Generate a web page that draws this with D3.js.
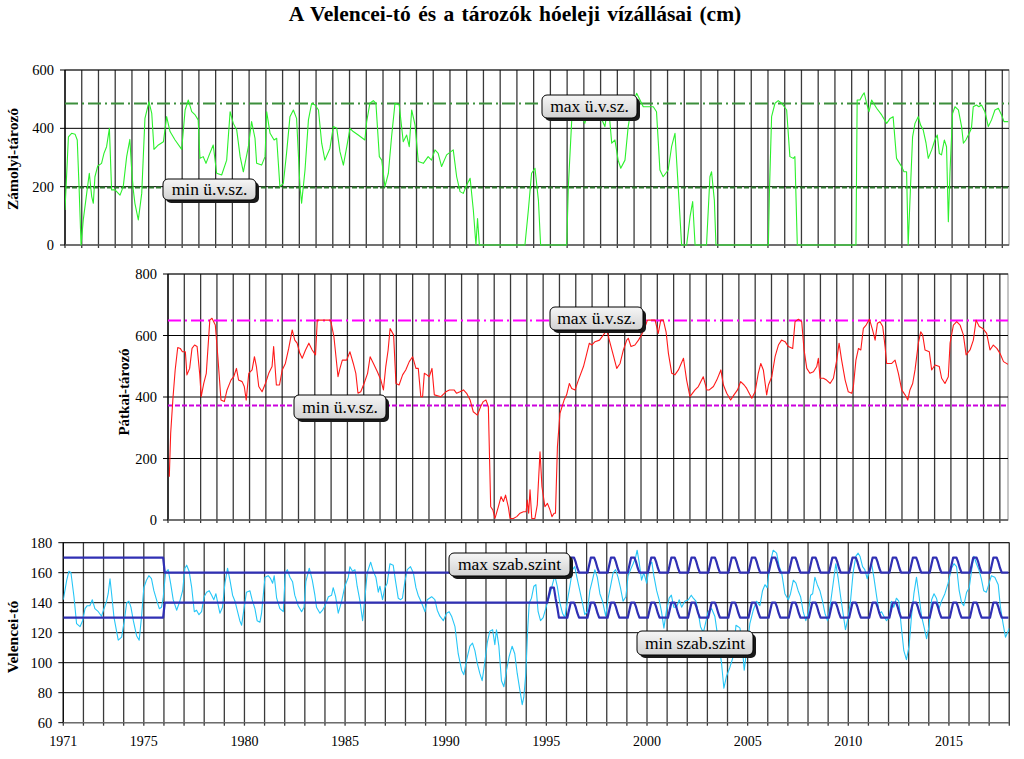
<!DOCTYPE html>
<html><head><meta charset="utf-8">
<script src="https://cdn.jsdelivr.net/npm/d3@7"></script>
<style>body{margin:0;background:#fff}svg{display:block}svg text{font-family:"Liberation Serif","DejaVu Serif",serif}</style>
</head><body>
<svg id="chart" width="1024" height="759"></svg>
<script>
// ---------------- DATA ----------------
const titleText = "A Velencei-tó és a tározók hóeleji vízállásai (cm)";
const yearLabels = [1971, 1975, 1980, 1985, 1990, 1995, 2000, 2005, 2010, 2015];

// Zámolyi-tározó [decimal year, cm]
const zamolyi = [[1971.00,120],[1971.17,371],[1971.33,383],[1971.50,380],[1971.61,360],[1971.70,200],[1971.80,0],[1971.91,86],
[1972.08,177],[1972.21,246],[1972.33,166],[1972.41,143],[1972.49,234],[1972.63,271],[1972.82,280],[1972.94,314],
[1973.07,337],[1973.21,400],[1973.32,189],[1973.49,189],[1973.74,171],[1973.90,200],[1974.07,303],[1974.23,362],
[1974.32,257],[1974.40,189],[1974.48,143],[1974.65,86],[1974.82,177],[1974.98,434],[1975.18,491],[1975.32,451],
[1975.43,328],[1975.65,343],[1975.90,354],[1976.06,440],[1976.23,389],[1976.48,360],[1976.81,328],[1976.98,463],
[1977.14,497],[1977.31,457],[1977.48,446],[1977.63,429],[1977.72,297],[1977.88,303],[1978.02,280],[1978.18,309],
[1978.38,343],[1978.55,246],[1978.80,240],[1979.05,291],[1979.22,457],[1979.38,417],[1979.55,394],[1979.72,303],
[1979.88,251],[1980.13,337],[1980.29,423],[1980.46,366],[1980.54,280],[1980.79,274],[1980.96,303],[1981.04,457],
[1981.21,383],[1981.41,360],[1981.54,366],[1981.70,200],[1981.87,211],[1982.03,314],[1982.20,440],[1982.37,463],
[1982.53,434],[1982.70,200],[1982.78,143],[1982.95,257],[1983.12,429],[1983.28,486],[1983.45,480],[1983.62,463],
[1983.78,349],[1983.94,291],[1984.19,331],[1984.36,406],[1984.53,400],[1984.69,320],[1984.86,274],[1985.03,337],
[1985.19,400],[1985.35,389],[1985.60,377],[1985.93,360],[1986.02,423],[1986.18,486],[1986.35,495],[1986.48,486],
[1986.65,303],[1986.77,291],[1986.93,200],[1987.10,246],[1987.26,371],[1987.43,486],[1987.64,480],[1987.84,354],
[1988.01,377],[1988.14,337],[1988.26,463],[1988.43,411],[1988.59,286],[1988.84,280],[1989.08,303],[1989.25,291],
[1989.42,326],[1989.58,314],[1989.75,269],[1990.00,309],[1990.33,326],[1990.50,234],[1990.67,183],[1990.83,177],
[1991.00,206],[1991.17,229],[1991.33,120],[1991.46,0],[1991.54,91],[1991.63,0],[1993.90,0],[1994.07,120],
[1994.23,246],[1994.40,263],[1994.57,154],[1994.68,0],[1995.98,0],[1996.06,200],[1996.23,429],[1996.39,463],
[1996.63,451],[1996.88,417],[1997.13,480],[1997.38,463],[1997.63,446],[1997.88,406],[1998.05,486],[1998.22,349],
[1998.38,360],[1998.54,291],[1998.67,263],[1998.88,291],[1999.04,406],[1999.21,474],[1999.46,520],[1999.63,497],
[1999.79,474],[2000.29,474],[2000.45,457],[2000.62,257],[2000.78,234],[2001.03,257],[2001.20,337],[2001.37,383],
[2001.53,200],[2001.70,0],[2001.95,0],[2002.12,97],[2002.25,149],[2002.37,0],[2002.94,0],[2003.11,234],
[2003.19,251],[2003.33,154],[2003.41,0],[2006.02,0],[2006.07,177],[2006.18,440],[2006.35,486],[2006.51,495],
[2006.68,486],[2006.93,463],[2007.09,303],[2007.26,297],[2007.34,303],[2007.46,0],[2010.38,0],[2010.44,497],
[2010.58,497],[2010.71,514],[2010.79,522],[2010.91,486],[2011.03,457],[2011.16,497],[2011.41,469],[2011.66,446],
[2011.91,417],[2012.08,434],[2012.23,440],[2012.40,297],[2012.65,269],[2012.77,251],[2012.90,251],[2012.98,0],
[2013.07,154],[2013.20,371],[2013.32,417],[2013.48,440],[2013.60,411],[2013.73,394],[2013.87,349],[2013.98,297],
[2014.15,326],[2014.31,360],[2014.43,377],[2014.53,314],[2014.64,309],[2014.78,360],[2014.89,337],[2014.98,80],
[2015.06,246],[2015.19,451],[2015.31,474],[2015.48,463],[2015.64,406],[2015.73,349],[2015.85,360],[2016.02,383],
[2016.13,400],[2016.22,474],[2016.38,480],[2016.50,474],[2016.63,480],[2016.80,457],[2016.97,406],[2017.13,429],
[2017.30,463],[2017.47,469],[2017.63,446],[2017.75,423],[2017.96,423]];

// Pátkai-tározó [decimal year, cm]
const patkai = [[1975.15,141],[1975.22,282],[1975.33,390],[1975.45,488],[1975.58,561],[1975.71,558],[1975.82,547],[1975.97,547],
[1976.05,472],[1976.19,493],[1976.31,558],[1976.44,569],[1976.57,564],[1976.70,477],[1976.78,401],[1976.91,444],
[1977.04,477],[1977.22,650],[1977.33,656],[1977.50,634],[1977.63,531],[1977.79,390],[1977.96,385],[1978.10,423],
[1978.30,455],[1978.44,466],[1978.58,493],[1978.69,455],[1978.87,450],[1978.98,434],[1979.08,390],[1979.21,477],
[1979.38,488],[1979.50,531],[1979.60,499],[1979.72,434],[1979.89,417],[1980.06,444],[1980.23,477],[1980.40,499],
[1980.48,564],[1980.62,439],[1980.78,439],[1980.92,488],[1981.08,509],[1981.25,558],[1981.43,618],[1981.56,585],
[1981.68,575],[1981.82,542],[1981.94,526],[1982.11,553],[1982.28,575],[1982.45,553],[1982.62,537],[1982.71,650],
[1982.88,650],[1983.39,650],[1983.56,596],[1983.77,466],[1983.87,493],[1983.99,520],[1984.21,520],[1984.38,547],
[1984.55,509],[1984.68,477],[1984.79,412],[1984.93,417],[1985.10,444],[1985.28,477],[1985.41,531],[1985.58,509],
[1985.78,482],[1985.96,455],[1986.09,423],[1986.21,499],[1986.33,553],[1986.43,623],[1986.61,602],[1986.73,444],
[1986.89,439],[1987.07,472],[1987.23,488],[1987.41,515],[1987.58,531],[1987.75,493],[1987.87,493],[1988.00,401],
[1988.09,401],[1988.18,477],[1988.31,472],[1988.43,466],[1988.57,493],[1988.69,407],[1989.03,401],[1989.28,417],
[1989.46,423],[1989.70,423],[1989.83,412],[1990.00,417],[1990.18,423],[1990.34,412],[1990.52,390],[1990.68,352],
[1990.89,341],[1991.06,369],[1991.19,385],[1991.33,390],[1991.45,369],[1991.57,43],[1991.68,33],[1991.79,5],
[1991.96,43],[1992.10,76],[1992.22,60],[1992.33,81],[1992.47,43],[1992.56,5],[1992.73,5],[1992.90,11],
[1993.07,22],[1993.24,27],[1993.38,27],[1993.44,65],[1993.51,22],[1993.58,98],[1993.67,5],[1993.83,5],
[1993.95,49],[1994.09,222],[1994.19,108],[1994.34,43],[1994.47,54],[1994.60,33],[1994.70,11],[1994.81,22],
[1994.88,22],[1994.98,238],[1995.11,347],[1995.32,390],[1995.45,407],[1995.59,444],[1995.71,428],[1995.88,423],
[1996.05,455],[1996.31,499],[1996.44,531],[1996.61,575],[1996.73,569],[1996.90,580],[1997.13,585],[1997.33,602],
[1997.50,618],[1997.63,585],[1997.83,537],[1998.01,493],[1998.18,509],[1998.35,553],[1998.52,585],[1998.60,591],
[1998.74,564],[1998.94,569],[1999.12,585],[1999.28,602],[1999.46,629],[1999.58,650],[1999.97,650],[2000.13,607],
[2000.26,650],[2000.39,650],[2000.53,612],[2000.65,542],[2000.82,477],[2000.98,472],[2001.16,488],[2001.42,526],
[2001.58,455],[2001.75,401],[2002.01,423],[2002.18,434],[2002.43,466],[2002.61,423],[2002.74,423],[2002.95,434],
[2003.12,455],[2003.33,488],[2003.46,439],[2003.63,412],[2003.83,390],[2004.00,407],[2004.18,423],[2004.34,450],
[2004.52,439],[2004.65,428],[2004.91,396],[2005.08,417],[2005.24,477],[2005.37,509],[2005.50,488],[2005.67,407],
[2005.76,439],[2005.93,466],[2006.10,531],[2006.27,569],[2006.43,585],[2006.61,580],[2006.78,564],[2007.00,558],
[2007.12,645],[2007.29,653],[2007.46,645],[2007.58,553],[2007.72,493],[2007.88,477],[2008.06,482],[2008.23,499],
[2008.31,526],[2008.40,461],[2008.57,461],[2008.73,455],[2008.91,444],[2009.08,461],[2009.25,520],[2009.37,575],
[2009.50,520],[2009.68,455],[2009.84,417],[2010.02,412],[2010.10,434],[2010.23,520],[2010.36,558],[2010.48,553],
[2010.61,623],[2010.75,634],[2010.92,653],[2011.08,618],[2011.21,585],[2011.33,640],[2011.46,645],[2011.60,629],
[2011.72,564],[2011.80,509],[2012.06,509],[2012.23,520],[2012.40,477],[2012.57,423],[2012.74,407],[2012.88,390],
[2012.99,423],[2013.13,444],[2013.25,488],[2013.42,575],[2013.54,612],[2013.64,602],[2013.76,553],[2013.98,547],
[2014.10,488],[2014.27,504],[2014.49,499],[2014.61,461],[2014.78,444],[2014.95,466],[2015.04,575],[2015.21,634],
[2015.38,645],[2015.55,634],[2015.72,602],[2015.86,537],[2016.06,553],[2016.23,585],[2016.37,650],[2016.53,629],
[2016.71,623],[2016.91,607],[2017.08,553],[2017.25,569],[2017.43,558],[2017.59,542],[2017.77,515],[2018.00,506]];

// Velencei-tó [decimal year, cm]
const velence = [[1971.00,142],[1971.17,155],[1971.28,161],[1971.38,160],[1971.53,144],[1971.66,126],[1971.83,124],[1971.96,128],
[1972.08,136],[1972.19,138],[1972.32,138],[1972.44,142],[1972.57,136],[1972.74,134],[1972.90,131],[1973.02,136],
[1973.15,141],[1973.23,146],[1973.32,156],[1973.40,146],[1973.52,130],[1973.73,115],[1973.90,117],[1974.03,128],
[1974.15,140],[1974.26,141],[1974.36,137],[1974.48,128],[1974.64,118],[1974.77,115],[1974.89,131],[1975.00,150],
[1975.13,155],[1975.25,158],[1975.38,156],[1975.50,148],[1975.63,142],[1975.77,136],[1975.88,137],[1975.96,143],
[1976.08,160],[1976.21,162],[1976.33,153],[1976.46,142],[1976.63,135],[1976.79,141],[1976.93,148],[1977.04,163],
[1977.13,165],[1977.25,161],[1977.38,150],[1977.51,134],[1977.62,135],[1977.74,132],[1977.87,134],[1978.00,144],
[1978.12,147],[1978.25,148],[1978.37,145],[1978.48,142],[1978.58,146],[1978.70,138],[1978.78,133],[1978.91,137],
[1979.03,153],[1979.16,163],[1979.28,155],[1979.41,145],[1979.53,141],[1979.64,135],[1979.77,128],[1979.86,125],
[1979.99,137],[1980.10,147],[1980.27,148],[1980.38,142],[1980.52,136],[1980.63,128],[1980.77,127],[1980.85,133],
[1981.02,157],[1981.18,158],[1981.30,156],[1981.40,153],[1981.48,158],[1981.60,143],[1981.76,136],[1981.93,134],
[1982.03,160],[1982.13,162],[1982.26,157],[1982.39,154],[1982.50,145],[1982.67,138],[1982.84,134],[1982.96,137],
[1983.05,154],[1983.22,163],[1983.37,155],[1983.50,145],[1983.58,137],[1983.75,133],[1983.88,135],[1984.00,138],
[1984.17,144],[1984.33,145],[1984.41,150],[1984.53,144],[1984.66,133],[1984.83,141],[1984.99,151],[1985.16,157],
[1985.24,164],[1985.37,161],[1985.49,162],[1985.60,151],[1985.74,141],[1985.87,128],[1985.99,144],[1986.10,160],
[1986.27,167],[1986.40,161],[1986.53,157],[1986.65,147],[1986.73,151],[1986.86,142],[1986.98,150],[1987.09,153],
[1987.23,166],[1987.39,165],[1987.51,154],[1987.64,143],[1987.76,142],[1987.85,143],[1987.97,154],[1988.09,162],
[1988.25,164],[1988.39,160],[1988.52,150],[1988.63,145],[1988.80,140],[1988.97,134],[1989.08,142],[1989.30,144],
[1989.46,142],[1989.58,135],[1989.71,131],[1989.88,128],[1990.04,133],[1990.17,134],[1990.29,131],[1990.46,124],
[1990.62,106],[1990.79,95],[1990.90,92],[1991.04,102],[1991.20,111],[1991.33,113],[1991.45,108],[1991.56,100],
[1991.69,93],[1991.81,88],[1991.94,100],[1992.06,113],[1992.19,121],[1992.33,122],[1992.44,112],[1992.52,122],
[1992.64,111],[1992.77,88],[1992.89,84],[1993.02,95],[1993.15,104],[1993.30,111],[1993.43,106],[1993.55,93],
[1993.68,82],[1993.80,72],[1993.88,77],[1993.98,93],[1994.07,122],[1994.15,140],[1994.26,143],[1994.38,151],
[1994.48,152],[1994.59,134],[1994.71,128],[1994.84,130],[1994.97,136],[1995.09,142],[1995.17,145],[1995.30,152],
[1995.42,158],[1995.54,151],[1995.67,140],[1995.80,133],[1995.92,130],[1996.04,141],[1996.17,151],[1996.30,162],
[1996.41,164],[1996.53,156],[1996.66,148],[1996.79,140],[1996.91,132],[1997.03,134],[1997.16,148],[1997.29,155],
[1997.41,162],[1997.53,157],[1997.66,146],[1997.79,141],[1997.95,131],[1998.07,143],[1998.19,151],[1998.32,160],
[1998.44,162],[1998.56,157],[1998.68,150],[1998.81,141],[1998.95,144],[1999.06,158],[1999.18,162],[1999.31,166],
[1999.43,170],[1999.51,175],[1999.61,167],[1999.73,155],[1999.84,160],[1999.98,153],[2000.13,165],[2000.24,167],
[2000.34,158],[2000.48,148],[2000.60,142],[2000.72,134],[2000.84,123],[2000.97,135],[2001.10,143],[2001.21,145],
[2001.33,137],[2001.47,137],[2001.60,142],[2001.72,137],[2001.88,141],[2002.05,142],[2002.20,145],[2002.30,143],
[2002.43,141],[2002.55,133],[2002.66,124],[2002.80,120],[2003.04,134],[2003.21,136],[2003.37,131],[2003.54,115],
[2003.70,100],[2003.82,83],[2003.95,91],[2004.12,97],[2004.28,104],[2004.42,125],[2004.53,124],[2004.62,123],
[2004.75,108],[2004.83,95],[2004.95,108],[2005.11,126],[2005.28,135],[2005.44,141],[2005.61,138],[2005.74,148],
[2005.86,152],[2005.97,150],[2006.11,166],[2006.27,175],[2006.44,173],[2006.57,164],[2006.69,160],[2006.85,146],
[2007.02,142],[2007.13,146],[2007.27,155],[2007.40,153],[2007.51,148],[2007.63,144],[2007.76,134],[2007.89,128],
[2008.01,133],[2008.13,145],[2008.23,146],[2008.34,157],[2008.46,152],[2008.59,148],[2008.72,141],[2008.84,133],
[2008.97,128],[2009.09,137],[2009.25,153],[2009.38,166],[2009.50,156],[2009.62,144],[2009.75,132],[2009.86,122],
[2009.99,130],[2010.11,141],[2010.24,160],[2010.38,171],[2010.49,173],[2010.58,171],[2010.71,164],[2010.82,162],
[2010.94,156],[2011.04,161],[2011.16,166],[2011.27,157],[2011.41,144],[2011.54,133],[2011.65,134],[2011.77,131],
[2011.90,128],[2012.03,130],[2012.14,141],[2012.26,137],[2012.39,143],[2012.51,141],[2012.65,122],[2012.76,108],
[2012.89,102],[2013.02,111],[2013.14,131],[2013.26,146],[2013.39,157],[2013.52,144],[2013.64,131],[2013.76,124],
[2013.89,116],[2014.01,124],[2014.14,142],[2014.26,146],[2014.38,143],[2014.51,136],[2014.63,141],[2014.80,146],
[2014.96,153],[2015.13,163],[2015.25,166],[2015.38,164],[2015.51,148],[2015.63,140],[2015.74,138],[2015.88,147],
[2016.01,150],[2016.13,162],[2016.24,171],[2016.37,166],[2016.49,162],[2016.61,156],[2016.73,148],[2016.86,147],
[2017.00,153],[2017.11,158],[2017.28,157],[2017.45,152],[2017.56,137],[2017.69,126],[2017.81,117],[2017.94,121],
[2018.00,123]];

// permitted operating levels of the reservoirs (cm)
const zamolyiMaxLevel = 485, zamolyiMinLevel = 197;
const patkaiMaxLevel = 649, patkaiMinLevel = 372;

// regulation levels of Velencei-tó (cm)
const regEarlyYears = [1971.00, 1975.96, 1976.04, 1994.96];
const regEarlyMax = [170, 170, 160, 160];
const regEarlyMin = [130, 130, 140, 140];
const reg1995Max = [160,160,160,160,160,160,160,160,160,160,160,160];
const reg1995Min = [140,145,150,150,150,143,137,130,130,130,130,130];
const regSeasonMax = [160,165,170,170,170,167,163,160,160,160,160,160];
const regSeasonMin = [130,135,140,140,140,137,133,130,130,130,130,130];
const regSeasonFirstYear = 1996, regSeasonLastYear = 2017;

// labels
const labels = {
  topMax: "max ü.v.sz.", topMin: "min ü.v.sz.",
  midMax: "max ü.v.sz.", midMin: "min ü.v.sz.",
  botMax: "max szab.szint", botMin: "min szab.szint"
};

// ---------------- BUILD REGULATION SERIES ----------------
function buildReg(early, v95, season) {
  const out = regEarlyYears.map((y, i) => [y, early[i]]);
  v95.forEach((v, m) => out.push([1995 + (m + 0.5) / 12, v]));
  for (let y = regSeasonFirstYear; y <= regSeasonLastYear; y++)
    season.forEach((v, m) => out.push([y + (m + 0.5) / 12, v]));
  return out;
}
const regMax = buildReg(regEarlyMax, reg1995Max, regSeasonMax);
const regMin = buildReg(regEarlyMin, reg1995Min, regSeasonMin);

// ---------------- DRAW ----------------
const svg = d3.select("#chart");
const serif = '"Liberation Serif", "DejaVu Serif", serif';
const defs = svg.append("defs");
const grad = defs.append("linearGradient").attr("id", "boxGrad").attr("x1", 0).attr("y1", 0).attr("x2", 0).attr("y2", 1);
grad.append("stop").attr("offset", "0%").attr("stop-color", "#f6f6f6");
grad.append("stop").attr("offset", "100%").attr("stop-color", "#d2d2d2");

function txt(sel) { return sel.style("font-family", serif); }

txt(svg.append("text")).attr("x", 515).attr("y", 21).attr("text-anchor", "middle")
  .style("font-weight", "bold").style("font-size", "21.5px").style("word-spacing", "2px").text(titleText);

function panel(o) {
  const g = svg.append("g");
  const x = d3.scaleLinear().domain(o.xDomain).range(o.xRange);
  const y = d3.scaleLinear().domain(o.yDomain).range(o.yRange);
  const [x0, x1] = o.xRange, [yb, yt] = o.yRange;
  const cid = "clip" + o.id;
  defs.append("clipPath").attr("id", cid).append("rect")
    .attr("x", x0).attr("y", yt - 2).attr("width", x1 - x0).attr("height", yb - yt + 3);
  g.append("rect").attr("x", x0).attr("y", yt).attr("width", x1 - x0).attr("height", yb - yt)
    .attr("fill", "none").attr("stroke", "#8c8c8c").attr("stroke-width", 1);
  g.selectAll(".vg").data(o.vGrid).enter().append("line")
    .attr("x1", d => x(d)).attr("x2", d => x(d)).attr("y1", yt).attr("y2", yb + 3)
    .attr("stroke", "#3a3a3a").attr("stroke-width", 1.3);
  g.selectAll(".hg").data(o.yTicks).enter().append("line")
    .attr("x1", x0 - 5).attr("x2", x1).attr("y1", d => y(d)).attr("y2", d => y(d))
    .attr("stroke", "#000").attr("stroke-width", 1);
  g.append("line").attr("x1", x0).attr("x2", x0).attr("y1", yt).attr("y2", yb).attr("stroke", "#000");
  g.append("line").attr("x1", x0).attr("x2", x1).attr("y1", yb).attr("y2", yb).attr("stroke", "#808080");
  txt(g.selectAll(".yl").data(o.yTicks).enter().append("text"))
    .attr("x", x0 - 11).attr("y", d => y(d)).attr("dy", "0.35em").attr("text-anchor", "end")
    .style("font-size", "14.5px").text(d => d);
  txt(g.append("text")).attr("transform", `translate(${o.titleX},${o.titleY}) rotate(-90)`)
    .attr("text-anchor", "middle").style("font-weight", "bold")
    .style("font-size", o.titleSize + "px").text(o.title);
  const plot = g.append("g").attr("clip-path", `url(#${cid})`);
  return {g, x, y, plot};
}

function hline(p, v, color, dash, w) {
  p.plot.append("line").attr("x1", p.x.range()[0]).attr("x2", p.x.range()[1])
    .attr("y1", p.y(v)).attr("y2", p.y(v)).attr("stroke", color)
    .attr("stroke-width", w).attr("stroke-dasharray", dash);
}
function series(p, data, color, w) {
  p.plot.append("path").datum(data)
    .attr("d", d3.line().x(d => p.x(d[0])).y(d => p.y(d[1])))
    .attr("fill", "none").attr("stroke", color).attr("stroke-width", w).attr("stroke-linejoin", "round");
}
function box(x, y, w, h, text) {
  const g = svg.append("g");
  g.append("rect").attr("x", x + 3).attr("y", y + 3).attr("width", w).attr("height", h).attr("rx", 5).attr("fill", "#1a1a1a");
  g.append("rect").attr("x", x).attr("y", y).attr("width", w).attr("height", h).attr("rx", 5)
    .attr("fill", "url(#boxGrad)").attr("stroke", "#000").attr("stroke-width", 1);
  txt(g.append("text")).attr("x", x + w / 2).attr("y", y + h / 2).attr("dy", "0.34em").attr("text-anchor", "middle")
    .style("font-size", "17.5px").text(text);
}

// Panel 1: Zámolyi (monthly category axis, gridline every 10 months)
const topStart = 1971, topEnd = 2018;
const p1 = panel({id: 1, xDomain: [topStart, topEnd], xRange: [65, 1009], yDomain: [0, 600], yRange: [245, 70],
  yTicks: [0, 200, 400, 600], vGrid: d3.range(0, 564, 10).map(m => topStart + m / 12),
  title: "Zámolyi-tározó", titleX: 18, titleY: 159, titleSize: 15.5});
hline(p1, zamolyiMaxLevel, "#3c8f3c", "13,4,2,4", 2);
hline(p1, zamolyiMinLevel, "#2f7a2f", "5,2", 2);
series(p1, zamolyi, "#2cf02c", 1.1);

// Panel 2: Pátkai
const midStart = 1975 + 1 / 12, midEnd = 2018;
const p2 = panel({id: 2, xDomain: [midStart, midEnd], xRange: [168, 1008], yDomain: [0, 800], yRange: [520, 274],
  yTicks: [0, 200, 400, 600, 800], vGrid: d3.range(0, 515, 10).map(m => midStart + m / 12),
  title: "Pátkai-tározó", titleX: 129, titleY: 392, titleSize: 15});
hline(p2, patkaiMaxLevel, "#ff00ff", "13,4,2,4", 2);
hline(p2, patkaiMinLevel, "#cc00dd", "5,2", 2);
series(p2, patkai, "#ff1a1a", 1.1);

// Panel 3: Velencei-tó
const p3 = panel({id: 3, xDomain: [1971, 2018], xRange: [63.3, 1009.3], yDomain: [60, 180], yRange: [722.7, 542.7],
  yTicks: [60, 80, 100, 120, 140, 160, 180], vGrid: d3.range(1971, 2019),
  title: "Velencei-tó", titleX: 18, titleY: 637, titleSize: 15.5});
series(p3, velence, "#26c6f6", 1.1);
series(p3, regMax, "#3030b4", 2.2);
series(p3, regMin, "#3030b4", 2.2);
txt(p3.g.selectAll(".xl").data(yearLabels).enter().append("text"))
  .attr("x", d => p3.x(d)).attr("y", 746).attr("text-anchor", "middle")
  .style("font-size", "14px").text(d => d);

// label boxes
box(163, 179, 93, 21, labels.topMin);
box(542, 95, 95, 23, labels.topMax);
box(294, 395, 92, 24, labels.midMin);
box(550, 307, 93, 23, labels.midMax);
box(449, 553, 121, 23, labels.botMax);
box(637, 631, 116, 24, labels.botMin);
</script>
</body></html>
